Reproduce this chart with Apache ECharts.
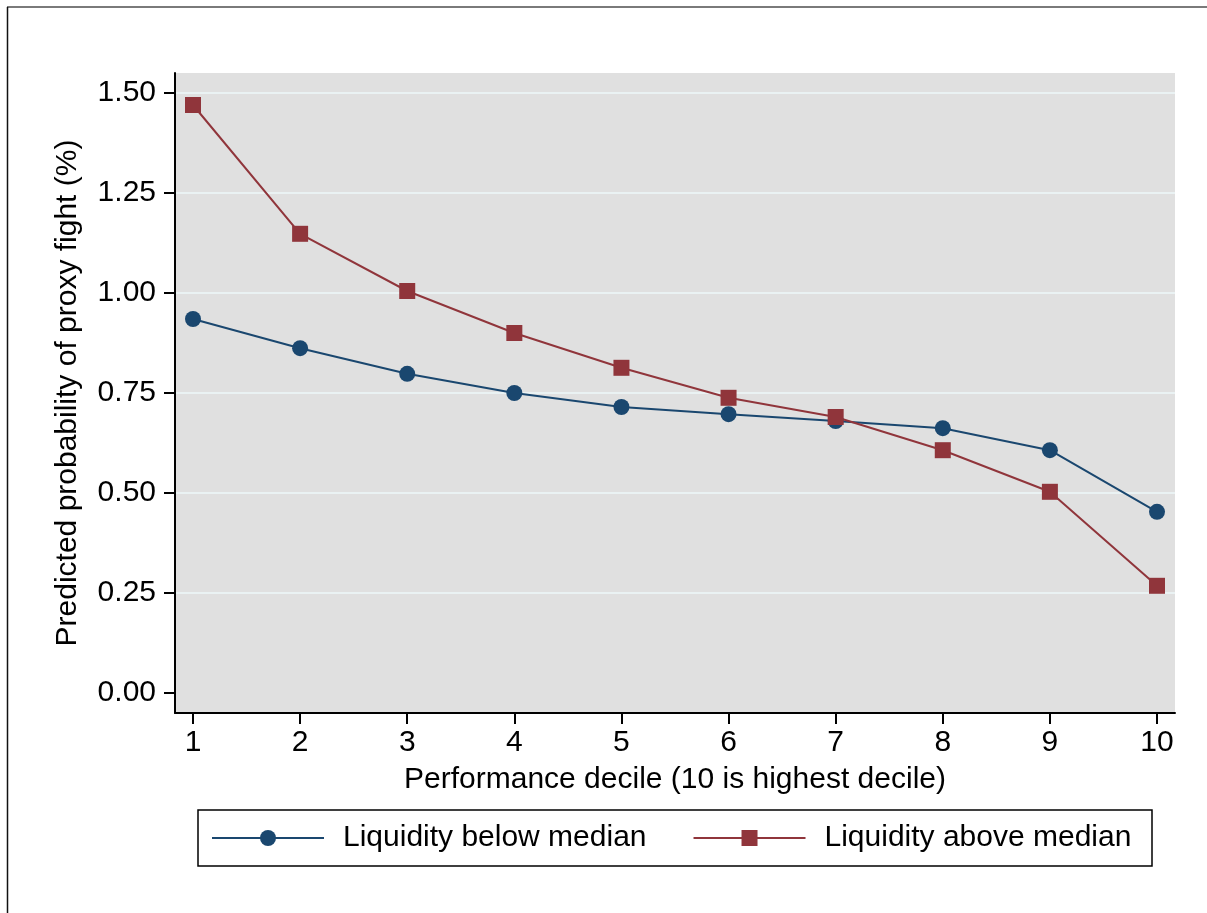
<!DOCTYPE html>
<html>
<head>
<meta charset="utf-8">
<script src="https://cdn.jsdelivr.net/npm/echarts@6/dist/echarts.min.js"></script>
<style>
html,body{margin:0;padding:0;background:#fff;}
#chart{width:1207px;height:913px;}
</style>
</head>
<body>
<div id="chart"></div>
<script>
const deciles = [1, 2, 3, 4, 5, 6, 7, 8, 9, 10];
const belowMedian = [0.935, 0.862, 0.798, 0.750, 0.715, 0.697, 0.680, 0.662, 0.607, 0.453];
const aboveMedian = [1.470, 1.148, 1.005, 0.900, 0.813, 0.738, 0.690, 0.607, 0.503, 0.268];
const yTicks = [0, 0.25, 0.5, 0.75, 1.0, 1.25, 1.5];
const gridTicks = [0.25, 0.5, 0.75, 1.0, 1.25, 1.5];
const seriesNames = ['Liquidity below median', 'Liquidity above median'];

const FONT = '"Liberation Sans", Arial, sans-serif';
const chart = echarts.init(document.getElementById('chart'), null, {renderer: 'canvas'});

const option = {
  backgroundColor: '#ffffff',
  animation: false,
  textStyle: {fontFamily: FONT},
  grid: {
    left: 175, top: 73, width: 1000, height: 640,
    show: true, backgroundColor: '#e0e0e0', borderWidth: 0
  },
  xAxis: {
    type: 'value', min: 0.832, max: 10.168,
    name: 'Performance decile (10 is highest decile)',
    nameLocation: 'middle', nameGap: 52,
    nameTextStyle: {fontSize: 30, color: '#000', fontFamily: FONT},
    axisLine: {show: true, onZero: false, lineStyle: {color: '#000', width: 2}},
    axisTick: {show: true, length: 11, lineStyle: {color: '#000', width: 2}, customValues: deciles},
    axisLabel: {fontSize: 30, color: '#000', margin: 15, fontFamily: FONT, customValues: deciles,
      formatter: v => String(v)},
    splitLine: {show: false}
  },
  yAxis: {
    type: 'value', min: -0.05, max: 1.55,
    name: 'Predicted probability of proxy fight (%)',
    nameLocation: 'middle', nameGap: 92, nameRotate: 90,
    nameTextStyle: {fontSize: 30, color: '#000', fontFamily: FONT},
    axisLine: {show: true, onZero: false, lineStyle: {color: '#000', width: 2}},
    axisTick: {show: true, length: 11, lineStyle: {color: '#000', width: 2}, customValues: yTicks},
    axisLabel: {fontSize: 30, color: '#000', margin: 19, fontFamily: FONT, customValues: yTicks,
      formatter: v => v.toFixed(2)},
    splitLine: {show: false}
  },
  legend: {
    left: 211, top: 823, padding: 0,
    itemWidth: 112, itemHeight: 20, itemGap: 46,
    data: seriesNames,
    textStyle: {fontSize: 30, color: '#000', fontFamily: FONT, lineHeight: 30, padding: [0, 0, 0, 14]}
  },
  graphic: [
    {type: 'rect', shape: {x: 198, y: 810, width: 954, height: 56},
      style: {fill: 'none', stroke: '#000', lineWidth: 1.5}, z: 100},
    {type: 'line', shape: {x1: 7, y1: 7, x2: 1207, y2: 7},
      style: {stroke: '#7a7a7a', lineWidth: 2}},
    {type: 'line', shape: {x1: 7.5, y1: 7, x2: 7.5, y2: 913},
      style: {stroke: '#111', lineWidth: 1.5}}
  ],
  series: [
    {
      name: 'grid', type: 'line', data: [], z: 0, zlevel: 0, silent: true,
      markLine: {
        silent: true, symbol: 'none', animation: false, z: 0,
        label: {show: false},
        lineStyle: {color: '#eaf2f3', width: 2, type: 'solid'},
        emphasis: {disabled: true},
        data: gridTicks.map(v => ({yAxis: v}))
      }
    },
    {
      name: seriesNames[0], type: 'line', z: 10,
      data: deciles.map((d, i) => [d, belowMedian[i]]),
      symbol: 'circle', symbolSize: 16,
      itemStyle: {color: '#1a476f'},
      lineStyle: {color: '#1a476f', width: 2}
    },
    {
      name: seriesNames[1], type: 'line', z: 10,
      data: deciles.map((d, i) => [d, aboveMedian[i]]),
      symbol: 'rect', symbolSize: 16,
      itemStyle: {color: '#90353b'},
      lineStyle: {color: '#90353b', width: 2}
    }
  ]
};
chart.setOption(option);
</script>
</body>
</html>
